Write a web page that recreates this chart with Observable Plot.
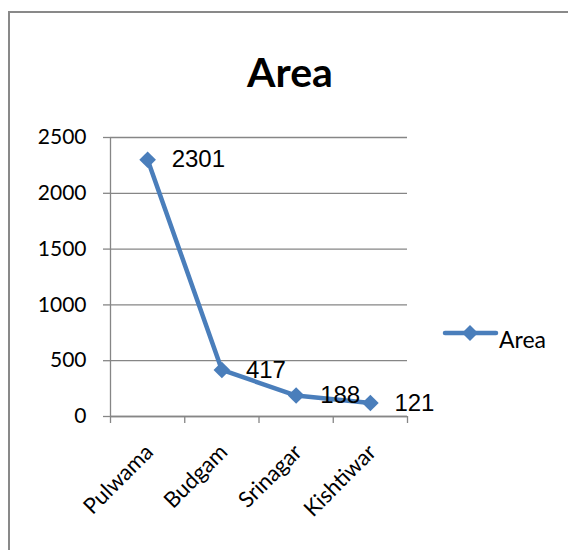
<!DOCTYPE html>
<html><head><meta charset="utf-8">
<script src="https://cdn.jsdelivr.net/npm/d3@7"></script>
<script src="https://cdn.jsdelivr.net/npm/@observablehq/plot@0.6"></script>
<style>
html,body{margin:0;padding:0;background:#fff;overflow:hidden;width:568px;height:550px;}
#frame{position:absolute;left:8px;top:11px;width:700px;height:700px;border-left:2px solid #898989;border-top:2px solid #898989;}
#chart{position:absolute;left:0;top:0;}
#title{position:absolute;left:190px;top:51px;width:200px;text-align:center;font:bold 41px/41px Lato,sans-serif;color:#000;}
#legend{position:absolute;left:440px;top:318px;}
</style>
</head><body>
<div id="frame"></div>
<div id="chart"></div>
<div id="title">Area</div>
<svg id="legend" width="120" height="40">
  <line x1="5" y1="15" x2="56" y2="15" stroke="#4a7ebb" stroke-width="4.5" stroke-linecap="round"/>
  <polygon points="30,7 38,15 30,23 22,15" fill="#4a7ebb"/>
  <text x="59" y="30" font-family="Lato, sans-serif" font-size="23" fill="#000">Area</text>
</svg>
<script>
const categories = ["Pulwama", "Budgam", "Srinagar", "Kishtiwar"];
const areaValues = [2301, 417, 188, 121];
const yTicks = [0, 500, 1000, 1500, 2000, 2500];

const data = categories.map((c, i) => ({pos: i + 0.5, name: c, value: areaValues[i]}));
const gray = "#868686";
const blue = "#4a7ebb";

const chart = Plot.plot({
  width: 568,
  height: 550,
  marginLeft: 110,
  marginRight: 161,
  marginTop: 137,
  marginBottom: 134,
  style: {fontFamily: "Lato, sans-serif", fontSize: "21px", background: "transparent", overflow: "visible"},
  x: {type: "linear", domain: [0, categories.length], label: null},
  y: {domain: [0, 2500], label: null},
  marks: [
    Plot.gridY(yTicks, {stroke: gray, strokeOpacity: 1, strokeWidth: 1.3}),
    Plot.ruleX([0], {stroke: gray, strokeWidth: 1.3}),
    Plot.ruleY([0], {stroke: gray, strokeWidth: 1.3}),
    Plot.axisY(yTicks, {tickSize: 7, tickPadding: 17, stroke: gray, strokeWidth: 1.3, fill: "#000", fontSize: 21,
      tickFormat: d => String(d), label: null}),
    Plot.axisX(d3.range(categories.length + 1), {tickSize: 7, stroke: gray, strokeWidth: 1.3, tickFormat: () => "", label: null}),
    Plot.axisX(data.map(d => d.pos), {tickSize: 0, tickPadding: 32, tickRotate: -45, textAnchor: "end", dx: 2,
      fill: "#000", fontSize: 22, tickFormat: p => categories[Math.round(p - 0.5)], label: null}),
    Plot.line(data, {x: "pos", y: "value", stroke: blue, strokeWidth: 4.5}),
    Plot.dot(data, {x: "pos", y: "value", symbol: "diamond2", r: 7.5, fill: blue, stroke: "none"}),
    Plot.text(data, {x: "pos", y: "value", text: d => String(d.value), dx: 24, textAnchor: "start",
      fontFamily: "'Liberation Sans', Arial, sans-serif", fontSize: 24, fill: "#000"})
  ]
});
document.getElementById("chart").appendChild(chart);
</script>
</body></html>
